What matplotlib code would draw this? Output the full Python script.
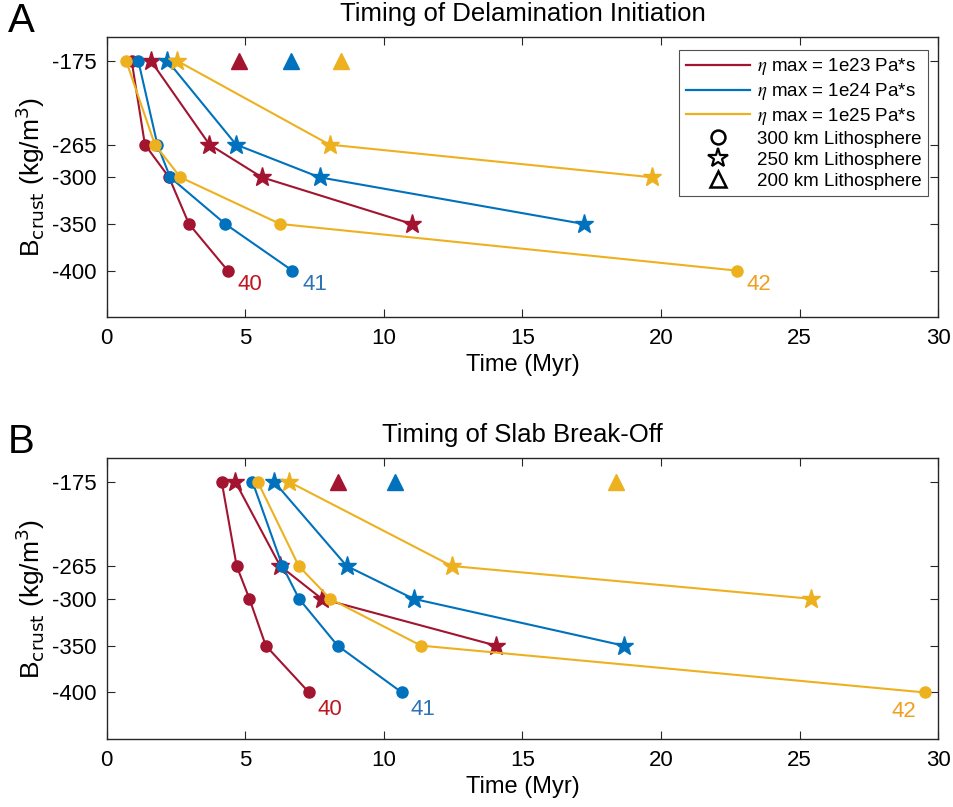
import matplotlib
matplotlib.use('Agg')
import matplotlib.pyplot as plt
from matplotlib.lines import Line2D

plt.rcParams['font.family'] = ['Liberation Sans', 'DejaVu Sans']
plt.rcParams['mathtext.fontset'] = 'stix'

# Densidad de la corteza (B_crust) para cada punto
b_crust = [-175, -265, -300, -350, -400]
ytick_labels = ['-175', '-265', '-300', '-350', '-400']

# Panel A: inicio de la delaminacion (Myr)
delam_300_e23 = [0.90, 1.38, 2.25, 2.97, 4.37]
delam_300_e24 = [1.14, 1.83, 2.29, 4.28, 6.70]
delam_300_e25 = [0.70, 1.74, 2.66, 6.26, 22.74]
delam_250_e23 = [1.59, 3.71, 5.60, 11.01]
delam_250_e24 = [2.19, 4.67, 7.68, 17.21]
delam_250_e25 = [2.53, 8.04, 19.67]
delam_200 = [4.78, 6.64, 8.45]

# Panel B: ruptura del slab (Myr)
break_300_e23 = [4.15, 4.69, 5.15, 5.74, 7.30]
break_300_e24 = [5.26, 6.34, 6.94, 8.33, 10.65]
break_300_e25 = [5.45, 6.93, 8.06, 11.34, 29.52]
break_250_e23 = [4.64, 6.26, 7.76, 14.05]
break_250_e24 = [6.04, 8.66, 11.07, 18.65]
break_250_e25 = [6.57, 12.45, 25.42]
break_200 = [8.33, 10.39, 18.39]

run_ids = ['40', '41', '42']
colors = ['#A2142F', '#0072BD', '#EDB120']
label_colors = ['#C0141E', '#2E74B5', '#F0A020']
legend_labels = [r'$\eta$ max = 1e23 Pa*s', r'$\eta$ max = 1e24 Pa*s',
                 r'$\eta$ max = 1e25 Pa*s']


def draw_panel(ax, circ, stars, tri, title, label_offsets):
    lw = 1.5
    for i in range(3):
        c = colors[i]
        ax.plot(circ[i], b_crust[:len(circ[i])], '-o', color=c, lw=lw,
                markersize=8, zorder=3)
        ax.plot(stars[i], b_crust[:len(stars[i])], '-*', color=c, lw=lw,
                markersize=14, zorder=3)
        ax.plot(tri[i], b_crust[0], '^', color=c, markersize=12, zorder=3)
        # etiqueta del caso
        dx, dy, ha = label_offsets[i]
        ax.annotate(run_ids[i], (circ[i][-1], b_crust[len(circ[i]) - 1]),
                    xytext=(dx, dy), textcoords='offset points',
                    color=label_colors[i], fontsize=16, ha=ha, va='center')

    ax.set_xlim(0, 30)
    ax.set_ylim(-450, -150)
    ax.set_xticks([0, 5, 10, 15, 20, 25, 30])
    ax.set_yticks(b_crust)
    ax.set_yticklabels(ytick_labels)
    ax.tick_params(direction='in', top=True, right=True, length=6,
                   labelsize=16, color='#262626', pad=8)
    ax.tick_params(axis='y', pad=7)
    for s in ax.spines.values():
        s.set_color('#262626')
        s.set_linewidth(1.0)
    ax.set_xlabel('Time (Myr)', fontsize=17, labelpad=3)
    ax.set_ylabel(r'B$_{\rm crust}$ (kg/m$^3$)', fontsize=19, labelpad=4,
                  math_fontfamily='dejavusans')
    ax.set_title(title, fontsize=18.5, pad=12)


fig = plt.figure(figsize=(9.54, 8.07), dpi=100)
ax_a = fig.add_axes([0.1118, 0.6068, 0.8717, 0.347])
ax_b = fig.add_axes([0.1118, 0.0839, 0.8717, 0.3482])

draw_panel(ax_a,
           [delam_300_e23, delam_300_e24, delam_300_e25],
           [delam_250_e23, delam_250_e24, delam_250_e25],
           delam_200, 'Timing of Delamination Initiation',
           [(7, -10, 'left'), (7, -10, 'left'), (7, -10, 'left')])
draw_panel(ax_b,
           [break_300_e23, break_300_e24, break_300_e25],
           [break_250_e23, break_250_e24, break_250_e25],
           break_200, 'Timing of Slab Break-Off',
           [(6, -12, 'left'), (6, -12, 'left'), (-6, -14, 'right')])

# Leyenda solo en el panel A
handles = [Line2D([], [], color=colors[i], lw=1.6) for i in range(3)]
handles += [Line2D([], [], ls='none', marker='o', mfc='none', mec='black',
                   mew=1.8, markersize=10),
            Line2D([], [], ls='none', marker='*', mfc='none', mec='black',
                   mew=1.6, markersize=15),
            Line2D([], [], ls='none', marker='^', mfc='none', mec='black',
                   mew=1.8, markersize=12)]
labels = legend_labels + ['300 km Lithosphere', '250 km Lithosphere',
                          '200 km Lithosphere']
leg = ax_a.legend(handles, labels, loc='upper right',
                  bbox_to_anchor=(0.988, 0.955), fontsize=13.5,
                  frameon=True, fancybox=False, edgecolor='#262626',
                  handlelength=3.4, handletextpad=0.4, labelspacing=0.2,
                  borderpad=0.35, borderaxespad=0)
leg.get_frame().set_linewidth(0.8)

fig.text(0.008, 0.998, 'A', fontsize=29, va='top')
fig.text(0.008, 0.476, 'B', fontsize=29, va='top')

fig.savefig('out.png', dpi=100)
